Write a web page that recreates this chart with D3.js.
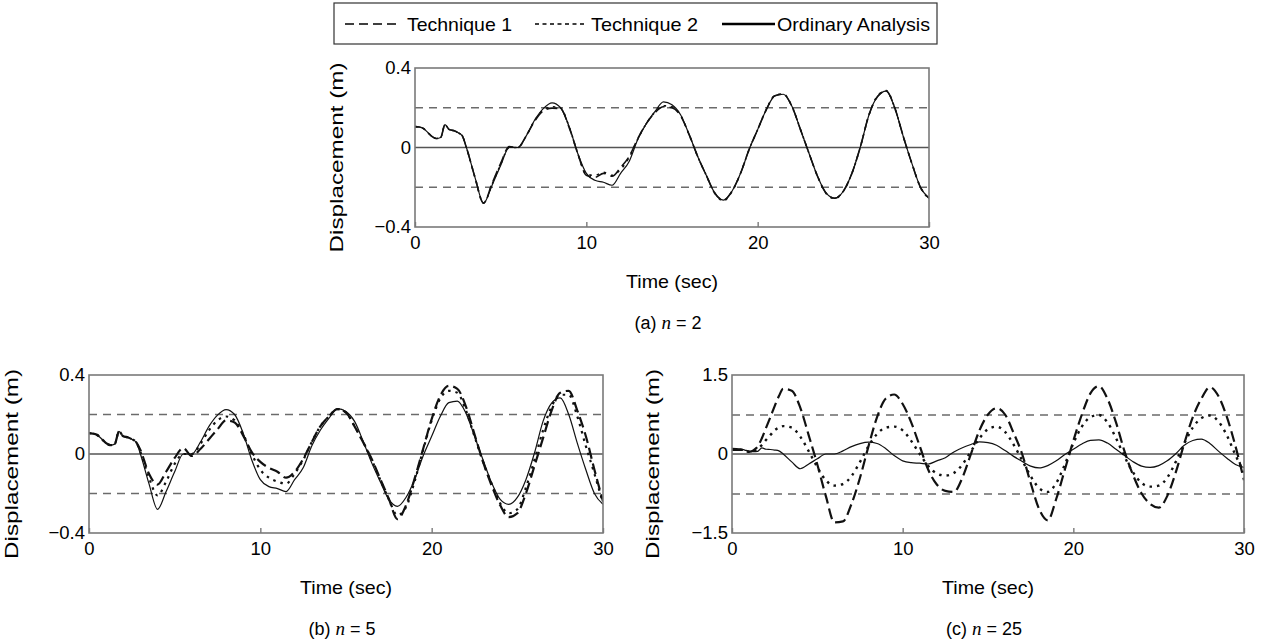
<!DOCTYPE html>
<html><head><meta charset="utf-8">
<script src="https://cdn.jsdelivr.net/npm/d3@7"></script>
<style>
body{margin:0;background:#fff}
svg{display:block}
text{font-family:"Liberation Sans",Arial,sans-serif;fill:#000}
</style>
</head><body>
<svg id="chart" width="1261" height="642"></svg>
<script>
// ---- data ----
const time = [0,0.25,0.5,0.75,1,1.25,1.5,1.75,2,2.25,2.5,2.75,3,
  3.5,4,4.5,5,5.5,6,6.5,7,7.5,8,8.5,9,9.5,10,10.5,11,11.5,12,12.5,13,13.5,14,14.5,15,15.5,16,16.5,17,17.5,18,18.5,19,19.5,20,20.5,21,21.5,22,22.5,23,23.5,24,24.5,25,25.5,26,26.5,27,27.5,28,28.5,29,29.5,30];

const ordinary = [0.105,0.103,0.095,0.075,0.055,0.045,0.05,0.115,0.09,0.085,0.075,0.06,0.0,
  -0.15,-0.28,-0.19,-0.09,0,0,0.06,0.14,0.197,0.225,
  0.2,0.105,-0.03,-0.13,-0.165,-0.175,-0.19,-0.13,-0.07,0.04,
  0.12,0.18,0.23,0.215,0.165,0.065,-0.045,-0.14,-0.23,-0.265,
  -0.22,-0.13,-0.01,0.09,0.19,0.26,0.268,0.207,0.09,-0.03,
  -0.146,-0.23,-0.255,-0.22,-0.13,0.005,0.165,0.257,0.284,0.2,
  0.055,-0.08,-0.2,-0.255];

const techA1 = [0.105,0.103,0.095,0.075,0.055,0.045,0.05,0.115,0.09,0.085,0.075,0.06,0.0,
  -0.15,-0.28,-0.18,-0.08,0.005,0,0.06,0.135,0.185,0.198,
  0.195,0.1,-0.03,-0.14,-0.15,-0.13,-0.145,-0.1,-0.045,0.045,
  0.12,0.175,0.205,0.2,0.16,0.065,-0.045,-0.14,-0.23,-0.265,
  -0.22,-0.13,-0.01,0.09,0.19,0.26,0.268,0.207,0.09,-0.03,
  -0.146,-0.23,-0.255,-0.22,-0.13,0.005,0.165,0.257,0.284,0.2,
  0.055,-0.08,-0.2,-0.255];

const techA2 = [0.105,0.103,0.095,0.075,0.055,0.045,0.05,0.115,0.09,0.085,0.075,0.06,0.0,
  -0.15,-0.28,-0.185,-0.085,0,0,0.06,0.138,0.19,0.205,
  0.198,0.103,-0.03,-0.135,-0.14,-0.125,-0.14,-0.11,-0.05,0.042,
  0.12,0.178,0.21,0.205,0.162,0.065,-0.045,-0.14,-0.23,-0.268,
  -0.222,-0.13,-0.01,0.09,0.19,0.262,0.27,0.207,0.09,-0.03,
  -0.146,-0.232,-0.257,-0.22,-0.13,0.005,0.165,0.26,0.286,0.2,
  0.055,-0.08,-0.2,-0.258];

const techB1 = [0.105,0.103,0.095,0.075,0.055,0.045,0.05,0.115,0.09,0.085,0.075,0.06,0.02,
  -0.1,-0.155,-0.09,-0.02,0.03,-0.01,0.025,0.075,0.125,0.17,
  0.16,0.093,0.01,-0.04,-0.07,-0.09,-0.12,-0.09,-0.025,0.06,
  0.14,0.19,0.227,0.21,0.14,0.06,-0.025,-0.126,-0.227,-0.33,
  -0.26,-0.126,0.025,0.177,0.295,0.345,0.33,0.24,0.1,-0.04,
  -0.16,-0.26,-0.32,-0.3,-0.2,-0.06,0.08,0.22,0.31,0.32,
  0.22,0.09,-0.08,-0.24];

const techB2 = [0.105,0.103,0.095,0.075,0.055,0.045,0.05,0.115,0.09,0.085,0.075,0.06,0.01,
  -0.12,-0.21,-0.14,-0.05,0,0,0.05,0.12,0.17,0.19,
  0.17,0.1,0,-0.08,-0.12,-0.14,-0.15,-0.1,-0.03,0.06,
  0.14,0.19,0.227,0.21,0.14,0.06,-0.03,-0.13,-0.23,-0.31,
  -0.27,-0.14,0.02,0.17,0.28,0.32,0.31,0.22,0.09,-0.04,
  -0.15,-0.25,-0.3,-0.28,-0.17,-0.03,0.12,0.24,0.3,0.3,
  0.19,0.04,-0.1,-0.25];

const techC1 = [0.08,0.08,0.08,0.07,0.04,0.07,0.14,0.3,0.5,0.7,0.91,1.1,1.24,
  1.2,0.88,0.35,-0.2,-0.8,-1.3,-1.28,-0.95,-0.45,0.15,
  0.7,1.05,1.13,0.95,0.6,0.15,-0.3,-0.58,-0.7,-0.72,
  -0.45,0,0.45,0.75,0.87,0.75,0.4,0,-0.55,-1.05,
  -1.26,-0.85,-0.3,0.25,0.75,1.15,1.29,1.05,0.6,0.05,
  -0.4,-0.75,-0.95,-1.02,-0.8,-0.35,0.2,0.7,1.05,1.27,
  1.1,0.7,0.15,-0.5];

const techC2 = [0.08,0.08,0.08,0.07,0.04,0.06,0.1,0.17,0.27,0.36,0.45,0.5,0.53,
  0.5,0.33,0.05,-0.25,-0.5,-0.6,-0.57,-0.42,-0.15,0.15,
  0.38,0.5,0.52,0.45,0.25,0,-0.23,-0.37,-0.41,-0.36,
  -0.2,0.05,0.3,0.47,0.52,0.42,0.18,-0.12,-0.42,-0.65,
  -0.72,-0.55,-0.2,0.2,0.52,0.7,0.74,0.6,0.3,-0.05,
  -0.35,-0.55,-0.62,-0.6,-0.45,-0.15,0.2,0.5,0.68,0.73,
  0.62,0.35,-0.02,-0.35];

const xTicks = [0,10,20,30];
const yTicksAB = [-0.4,0,0.4];
const yTicksC = [-1.5,0,1.5];
const limitsAB = [-0.2,0.2];
const limitsC = [-0.76,0.74];
const legendLabels = ["Technique 1","Technique 2","Ordinary Analysis"];
const captions = [["(a) ","n"," = 2"],["(b) ","n"," = 5"],["(c) ","n"," = 25"]];

// ---- drawing ----
const svg = d3.select("#chart");
const fmtY = d => d===0 ? "0" : d3.format(".1f")(d);

const panels = [
  {x0:415,x1:929,y0:68,y1:227,dom:[-0.4,0.4],ticks:yTicksAB,lim:limitsAB,t1:techA1,t2:techA2,cap:captions[0],ytx:343,w1:1.6,w2:1.6},
  {x0:89,x1:603,y0:375,y1:533,dom:[-0.4,0.4],ticks:yTicksAB,lim:limitsAB,t1:techB1,t2:techB2,cap:captions[1],ytx:18,w1:2.2,w2:2.2},
  {x0:732,x1:1244,y0:375,y1:533,dom:[-1.5,1.5],ticks:yTicksC,lim:limitsC,t1:techC1,t2:techC2,cap:captions[2],ytx:659,w1:2.2,w2:2.4}
];

panels.forEach((p,i)=>{
  const x = d3.scaleLinear().domain([0,30]).range([p.x0,p.x1]);
  const y = d3.scaleLinear().domain(p.dom).range([p.y1,p.y0]);
  const g = svg.append("g");
  const cid = "clip"+i;
  svg.append("clipPath").attr("id",cid).append("rect")
    .attr("x",p.x0).attr("y",p.y0).attr("width",p.x1-p.x0).attr("height",p.y1-p.y0);

  g.selectAll(".lim").data(p.lim).join("line")
    .attr("x1",p.x0).attr("x2",p.x1).attr("y1",d=>y(d)).attr("y2",d=>y(d))
    .attr("stroke","#6b6b6b").attr("stroke-width",1.6).attr("stroke-dasharray","8,6");
  g.append("line").attr("x1",p.x0).attr("x2",p.x1).attr("y1",y(0)).attr("y2",y(0))
    .attr("stroke","#555").attr("stroke-width",1.6);

  const line = vals => d3.line().x((d,k)=>x(time[k])).y(d=>y(d)).curve(d3.curveMonotoneX)(vals);
  const lg = g.append("g").attr("clip-path",`url(#${cid})`);
  lg.append("path").attr("d",line(ordinary)).attr("fill","none").attr("stroke","#111").attr("stroke-width",1.2);
  lg.append("path").attr("d",line(p.t2)).attr("fill","none").attr("stroke","#111").attr("stroke-width",p.w2).attr("stroke-dasharray","2.5,5");
  lg.append("path").attr("d",line(p.t1)).attr("fill","none").attr("stroke","#111").attr("stroke-width",p.w1).attr("stroke-dasharray","11,5");

  g.append("rect").attr("x",p.x0).attr("y",p.y0).attr("width",p.x1-p.x0).attr("height",p.y1-p.y0)
    .attr("fill","none").attr("stroke","#7a7a7a").attr("stroke-width",1.6);

  const xa = g.append("g").attr("transform",`translate(0,${p.y1})`)
    .call(d3.axisBottom(x).tickValues(xTicks).tickSize(-5).tickPadding(9).tickFormat(d3.format("d")));
  xa.select(".domain").remove();
  xa.selectAll("line").attr("stroke","#7a7a7a").attr("stroke-width",1.4);
  xa.selectAll("text").attr("font-size",18.5).attr("font-family","Liberation Sans, Arial, sans-serif").attr("dy","0.71em").attr("y",9);

  const ya = g.append("g").attr("transform",`translate(${p.x0},0)`)
    .call(d3.axisLeft(y).tickValues(p.ticks).tickSize(0).tickPadding(4).tickFormat(fmtY));
  ya.select(".domain").remove();
  ya.selectAll("text").attr("font-size",18.5).attr("font-family","Liberation Sans, Arial, sans-serif");

  const cx = (p.x0+p.x1)/2;
  g.append("text").attr("x",cx).attr("y",p.y1+61).attr("text-anchor","middle").attr("font-size",19)
    .attr("textLength",92).attr("lengthAdjust","spacingAndGlyphs").text("Time (sec)");
  g.append("text").attr("transform",`translate(${p.ytx},${(p.y0+p.y1)/2+10}) rotate(-90)`)
    .attr("text-anchor","middle").attr("font-size",18).attr("textLength",190).attr("lengthAdjust","spacingAndGlyphs")
    .text("Displacement (m)");
  const cap = g.append("text").attr("x",cx-4).attr("y",p.y1+102).attr("text-anchor","middle").attr("font-size",18);
  cap.append("tspan").text(p.cap[0]);
  cap.append("tspan").attr("font-family","Liberation Serif, Times New Roman, serif").attr("font-style","italic").attr("font-size",19).text(p.cap[1]);
  cap.append("tspan").text(p.cap[2]);
});

// legend
const lgd = svg.append("g");
lgd.append("rect").attr("x",334).attr("y",3).attr("width",603).attr("height",41)
  .attr("fill","#fff").attr("stroke","#333").attr("stroke-width",1.2);
const items = [
  {x1:345,x2:400,tx:407,len:105,dash:"9,5",w:1.5},
  {x1:535,x2:587,tx:591,len:107,dash:"4,3.5",w:1.3},
  {x1:722,x2:775,tx:777,len:153,dash:null,w:2.6}
];
items.forEach((it,k)=>{
  const l = lgd.append("line").attr("x1",it.x1).attr("x2",it.x2).attr("y1",24).attr("y2",24)
    .attr("stroke","#000").attr("stroke-width",it.w);
  if(it.dash) l.attr("stroke-dasharray",it.dash);
  lgd.append("text").attr("x",it.tx).attr("y",30.5).attr("font-size",18.5)
    .attr("textLength",it.len).attr("lengthAdjust","spacingAndGlyphs").text(legendLabels[k]);
});
</script>
</body></html>
